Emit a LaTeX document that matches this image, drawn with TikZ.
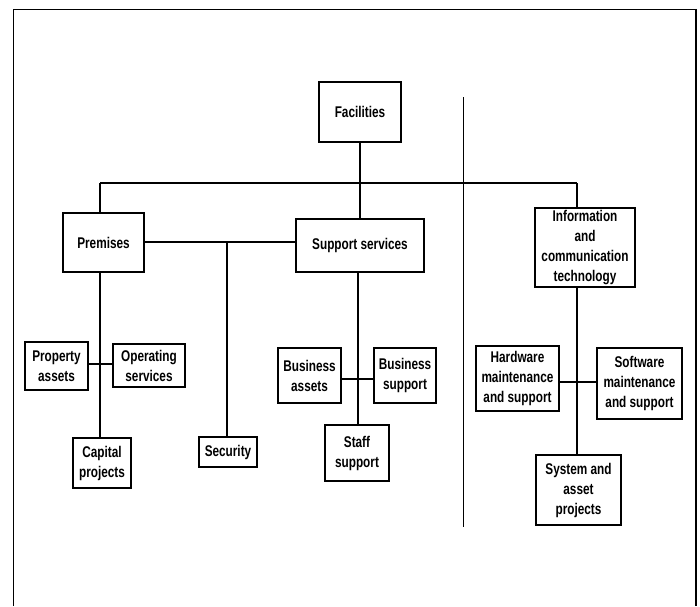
\documentclass[tikz,border=0pt]{standalone}
\usepackage{fontspec}
\setmainfont{Liberation Sans}[FakeStretch=0.76]
\begin{document}
\begin{tikzpicture}[x=1pt,y=-1pt,
  box/.style 2 args={draw, line width=1.3pt, inner sep=0pt, align=center,
    minimum width=#1, minimum height=#2,
    font=\bfseries\fontsize{15.5}{20}\selectfont},
  conn/.style={line width=1.2pt},
  frame/.style={line width=1.2pt}]
\useasboundingbox (0,0) rectangle (700,606);
% frame
\coordinate (fbl) at (13.5,606);
\coordinate (ftl) at (13.5,9.5);
\coordinate (ftr) at (696,9.5);
\coordinate (fbr) at (696,606);
\draw[frame] (fbl) -- (ftl) -- (ftr) -- (fbr);
% divider
\coordinate (dtop) at (463,97);
\coordinate (dbot) at (463,527);
\draw[line width=1pt] (dtop) -- (dbot);
% nodes
\node[box={82}{60}] (fac) at (360,112) {Facilities};
\node[box={81}{59}] (prem) at (103.5,242.5) {Premises};
\node[box={128}{53}] (sup) at (360,245.5) {Support services};
\node[box={100}{79}] (ict) at (585,247.5) {Information\\and\\communication\\technology};
\node[box={63}{48}] (prop) at (56.5,366) {Property\\assets};
\node[box={72}{43}] (oper) at (149,365.5) {Operating\\services};
\node[box={58}{50}] (cap) at (102,463) {Capital\\projects};
\node[box={58}{30}] (sec) at (228,452) {Security};
\node[box={63}{55}] (basset) at (309.5,375.5) {Business\\assets};
\node[box={62}{55}] (bsup) at (405,375.5) {Business\\support};
\node[box={64}{56}] (staff) at (357,453) {Staff\\support};
\node[box={83}{65}] (hw) at (517.5,378.5) {Hardware\\maintenance\\and support};
\node[box={85}{71}] (sw) at (639.5,383.5) {Software\\maintenance\\and support};
\node[box={85}{70}] (sys) at (578.5,490) {System and\\asset\\projects};
% junctions
\coordinate (hl) at (100,183);
\coordinate (hr) at (577,183);
\coordinate (secj) at (227,242);
% connectors
\draw[conn] (hl) -- (hr);
\draw[conn] (hl) -- (prem.north -| hl);
\draw[conn] (fac.south) -- (sup.north -| fac.south);
\draw[conn] (hr) -- (ict.north -| hr);
\draw[conn] (prem.south -| hl) -- (cap.north -| hl);
\draw[conn] (prop.east |- 0,364) -- (oper.west |- 0,364);
\draw[conn] (prem.east |- secj) -- (sup.west |- secj);
\draw[conn] (secj) -- (sec.north -| secj);
\draw[conn] (sup.south -| 358,0) -- (staff.north -| 358,0);
\draw[conn] (basset.east |- 0,379) -- (bsup.west |- 0,379);
\draw[conn] (ict.south -| hr) -- (sys.north -| hr);
\draw[conn] (hw.east |- 0,382) -- (sw.west |- 0,382);
\end{tikzpicture}
\end{document}
